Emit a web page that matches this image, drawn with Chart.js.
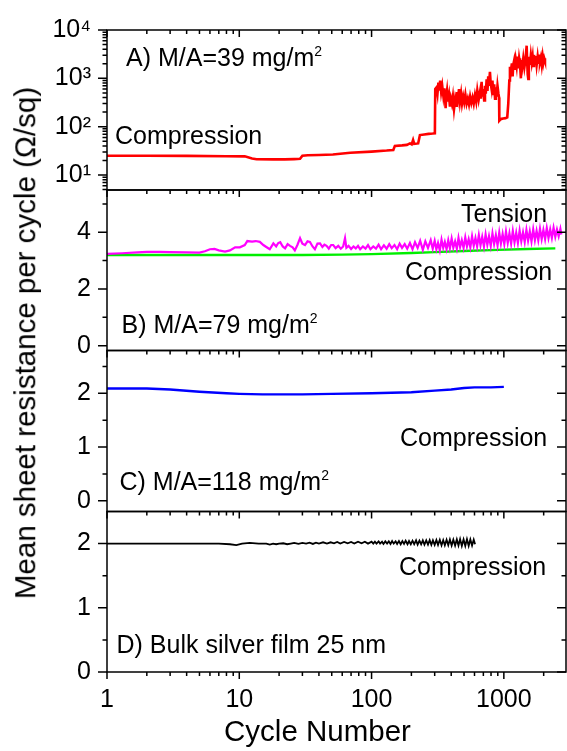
<!DOCTYPE html>
<html><head><meta charset="utf-8">
<script src="https://cdn.jsdelivr.net/npm/chart.js@4"></script>
<style>
html,body{margin:0;padding:0;background:#fff;}
#wrap{position:relative;width:567px;height:751px;overflow:hidden;font-family:"Liberation Sans",Arial,sans-serif;color:#000;background:#fff;}
canvas{position:absolute;left:0;top:0;}
.t{position:absolute;white-space:nowrap;line-height:1;font-size:25px;}
.s{font-size:14px;position:relative;top:-10px;}
</style></head>
<body><div id="wrap">
<canvas id="cA" width="567" height="751"></canvas>
<canvas id="cB" width="567" height="751"></canvas>
<canvas id="cC" width="567" height="751"></canvas>
<canvas id="cD" width="567" height="751"></canvas>
<div class="t" style="left:126px;top:44.8px">A) M/A=39 mg/m<span class="s">2</span></div>
<div class="t" style="left:115px;top:122.8px">Compression</div>
<div class="t" style="left:461px;top:200.5px">Tension</div>
<div class="t" style="left:405px;top:258.8px">Compression</div>
<div class="t" style="left:121.5px;top:312.1px">B) M/A=79 mg/m<span class="s">2</span></div>
<div class="t" style="left:400px;top:424.8px">Compression</div>
<div class="t" style="left:119.5px;top:468.8px">C) M/A=118 mg/m<span class="s">2</span></div>
<div class="t" style="left:399px;top:553.8px">Compression</div>
<div class="t" style="left:116.5px;top:632.1px">D) Bulk silver film 25 nm</div>
<div class="t" style="left:317.5px;top:716px;font-size:29.5px;transform:translateX(-50%)">Cycle Number</div>
<div class="t" style="left:25px;top:342.5px;font-size:29.5px;line-height:29.5px;transform:translate(-50%,-50%) rotate(-90deg)">Mean sheet resistance per cycle (Ω/sq)</div>
</div>
<script>
// ---------- data ----------
const xTickValues = [1, 10, 100, 1000];

// Panel A: M/A = 39 mg/m2, compression (red, log scale)
const cyclesA = [1,2,4,8,11,12.5,13.5,18,22,26,28.8,30,33,40,51,69,100,130,146,150,170,185,195,201,206,210,225,232,250,270,290,301,
 303,310,315,320,325,330,336,342,349,355,360,363,367,372,378,385,391,398,405,412,420,428,435,442,450,458,466,475,483,493,502,512,523,534,545,556,568,580,592,605,618,630,645,660,670,679,688,699,710,720,730,741,752,762,772,785,795,808,820,832,845,858,870,881,895,910,920,
 924,940,960,989,1030,1061,1080,1100,1112,1130,1150,1165,1178,1195,1210,1230,1249,1265,1285,1305,1324,1345,1360,1380,1403,1430,1460,1487,1500,1515,1530,1545,1560,1575,1600,1625,1650,1669,1690,1720,1745,1770,1800,1825,1850,1875,1905,1935,1965,1990,2020,2046];
const resistA = [25,25,24.8,24.5,24.3,22,21.2,21.0,21.0,21.3,21.6,25,25.6,26,26.6,28.9,30.5,32,33,40,41,42,45,43,53,44,45,67,69,71,72,73,
 600,650,480,820,560,900,520,700,430,620,350,240,420,560,330,450,260,380,300,420,230,360,270,520,380,600,330,480,300,420,320,460,300,380,290,420,310,400,300,450,330,560,360,520,380,850,420,600,350,700,480,950,550,1100,700,1370,800,600,900,450,750,380,650,420,700,480,400,
 133,140,145,147,150,155,300,900,1740,1400,2040,1100,1900,2300,1500,2400,1800,2800,1600,2600,2000,1000,2400,1800,2600,1700,2500,4740,2300,1200,970,2000,2800,1900,3000,2100,2800,1800,3040,2200,2900,1900,2800,2000,3100,2200,2700,1900,2800,2100,2600,2300];

// Panel B: M/A = 79 mg/m2, tension (magenta) and compression (green)
const cyclesBT = [1,1.3,1.7,2,2.5,3,4,5,5.5,6,6.5,7,7.8,8.5,9.3,10.1,11,11.5,12.5,13.3,14.3,15.2,16,17,18.1,19,19.7,20.4,21.3,22.2,23.2,24.2,25.3,26.3,27.5,28.8,30,31.4,32.8,34.2,35.8,37.3,39,40.8,42.5,44,45.7,47.5,49.5,51.3,53.5,56,58.5,61,63,64.5,67,70,73,76,79,82,86,90,94,98,103,108,113,118,124,130,136,142,149,156,163,170,178,186,195,204,213,223,233,244,255,267,280,290,
 300,309,318,328,338,348,358,369,380,391,403,415,428,441,454,467,481,496,511,526,542,558,575,592,610,628,647,666,686,707,728,750,772,796,820,844,870,896,923,950,979,1008,1038,1070,1102,1135,1169,1204,1240,1277,1316,1355,1396,1438,1481,1525,1571,1618,1667,1717,1768,1821,1876,1932,1990,2050,2111,2175,2240,2307,2376,2448,2521,2597,2675,2720];
const tensionB = [3.24,3.26,3.29,3.31,3.31,3.3,3.29,3.28,3.33,3.4,3.41,3.36,3.32,3.36,3.47,3.47,3.55,3.69,3.67,3.69,3.66,3.55,3.48,3.40,3.61,3.5,3.62,3.65,3.5,3.43,3.58,3.52,3.47,3.36,3.55,3.79,3.6,3.55,3.68,3.66,3.5,3.40,3.6,3.61,3.48,3.56,3.52,3.42,3.55,3.55,3.44,3.52,3.42,3.5,3.79,3.45,3.52,3.41,3.5,3.43,3.52,3.4,3.5,3.42,3.55,3.4,3.5,3.42,3.56,3.4,3.54,3.42,3.58,3.44,3.55,3.4,3.6,3.45,3.58,3.42,3.62,3.4,3.65,3.45,3.7,3.38,3.68,3.45,3.72,3.42,
 3.70,3.40,3.62,3.36,3.74,3.45,3.66,3.40,3.72,3.44,3.78,3.46,3.68,3.42,3.80,3.48,3.72,3.45,3.82,3.50,3.75,3.47,3.86,3.52,3.80,3.50,3.90,3.54,3.84,3.50,3.92,3.56,3.86,3.52,3.96,3.58,3.90,3.54,3.99,3.60,3.94,3.58,4.02,3.62,3.96,3.60,4.04,3.64,3.98,3.62,4.06,3.68,4.00,3.66,4.08,3.70,4.03,3.68,4.10,3.72,4.05,3.72,4.12,3.76,4.08,3.76,4.15,3.80,4.10,3.80,4.16,3.84,4.10,3.86,4.12,3.92];
const cyclesBC = [1,3,10,30,60,100,200,300,500,900,1500,2450];
const compressionB = [3.2,3.2,3.2,3.2,3.21,3.23,3.27,3.3,3.34,3.38,3.41,3.43];

// Panel C: M/A = 118 mg/m2, compression (blue)
const cyclesC = [1,2,3,5,8,10,15,20,30,50,100,200,300,400,500,600,800,1000];
const compressionC = [2.09,2.09,2.07,2.03,2.0,1.99,1.98,1.98,1.98,1.99,2.0,2.02,2.05,2.07,2.1,2.11,2.11,2.12];

// Panel D: bulk silver film 25 nm, compression (black)
const cyclesD = [1,3,7,8.5,9.5,10.5,12,14,16,17,18,19,20,21.5,23,24.5,26,28,30,32,34,36,38,40,43,46,49,52,55,58,62,66,70,74,79,84,89,94,
 100,103,106,109,113,116,120,123,127,131,135,139,143,147,152,156,161,166,171,176,181,187,192,198,204,210,217,223,230,237,244,251,259,267,275,283,291,300,309,318,328,338,348,358,369,380,391,403,415,428,441,454,467,481,496,511,526,542,558,575,592,606];
const compressionD = [2.0,2.0,2.0,1.99,1.975,2.0,2.01,2.0,2.0,1.985,2.0,1.99,2.0,2.005,1.99,2.0,2.01,1.995,2.01,2.0,2.015,1.995,2.015,2.0,2.02,2.0,2.02,2.005,2.025,2.0,2.025,2.005,2.025,2.0,2.03,2.005,2.03,2.0,
 2.03,2.0,2.03,2.0,2.035,2.0,2.03,1.995,2.035,2.0,2.035,1.995,2.04,2.0,2.035,1.995,2.04,1.99,2.04,1.995,2.045,1.99,2.04,1.99,2.045,1.99,2.05,1.985,2.045,1.99,2.05,1.985,2.05,1.985,2.055,1.98,2.05,1.98,2.055,1.98,2.06,1.975,2.055,1.975,2.06,1.975,2.065,1.97,2.06,1.97,2.065,1.97,2.07,1.965,2.065,1.965,2.07,1.965,2.065,1.97,2.06,1.99];

// ---------- chart building ----------
const FONT = '"Liberation Sans", Arial, sans-serif';
Chart.defaults.font.family = FONT;
Chart.defaults.font.size = 25;
Chart.defaults.color = '#000';
const W = 567, H = 751, XMAX = 2950, RIGHT = 566, XAXIS_H = 45;

function pts(xs, ys) { return xs.map((x, i) => ({x: x, y: ys[i]})); }
function xMinorList() {
  const out = [];
  for (const d of [1, 10, 100, 1000]) for (let k = 2; k <= 9; k++) if (d * k <= XMAX) out.push(d * k);
  return out;
}
const sup = {'1':'\u00B9','2':'\u00B2','3':'\u00B3','4':'\u2074'};

const frameTicks = {
  id: 'frameTicks',
  afterDraw(chart, args, o) {
    const {ctx, chartArea: a, scales} = chart;
    const xs = scales.x, ys = scales.y;
    ctx.save();
    ctx.strokeStyle = '#000';
    ctx.lineWidth = 1.5;
    ctx.beginPath();
    const xt = (v, len, yy) => { const p = xs.getPixelForValue(v); ctx.moveTo(p, yy); ctx.lineTo(p, yy + len); };
    const yt = (v, len) => {
      const p = ys.getPixelForValue(v);
      ctx.moveTo(a.left - len, p); ctx.lineTo(a.left, p);
      ctx.moveTo(a.right - len, p); ctx.lineTo(a.right, p);
    };
    xTickValues.forEach(v => { xt(v, 7, a.top); if (o.bottom) xt(v, 7, a.bottom); });
    xMinorList().forEach(v => { xt(v, 4, a.top); if (o.bottom) xt(v, 4, a.bottom); });
    o.yMajor.forEach(v => yt(v, 9));
    o.yMinor.forEach(v => yt(v, 4.5));
    ctx.stroke();
    ctx.strokeRect(a.left, a.top, a.right - a.left, a.bottom - a.top);
    ctx.restore();
  }
};

function makeChart(id, cfg) {
  const isLog = cfg.yType === 'logarithmic';
  const xh = cfg.showX ? XAXIS_H : 0;
  return new Chart(document.getElementById(id), {
    type: 'line',
    data: { datasets: cfg.datasets.map(d => ({
      data: d.data, borderColor: d.color, borderWidth: d.width || 2,
      pointRadius: 0, tension: 0, fill: false
    })) },
    options: {
      responsive: false, animation: false, devicePixelRatio: 1,
      layout: { padding: { top: cfg.top, bottom: H - cfg.bottom - xh, left: 0, right: W - RIGHT } },
      plugins: { legend: { display: false }, tooltip: { enabled: false },
                 frameTicks: { yMajor: cfg.yMajor, yMinor: cfg.yMinor, bottom: cfg.showX } },
      scales: {
        x: {
          type: 'logarithmic', min: 1, max: XMAX, position: 'bottom',
          grid: { display: false, drawTicks: true, tickLength: 7 },
          border: { display: false },
          afterBuildTicks: s => { s.ticks = xTickValues.map(v => ({value: v})); },
          afterFit: s => { s.height = xh; },
          ticks: { display: cfg.showX, padding: 6, maxRotation: 0, minRotation: 0, autoSkip: false,
                   font: { size: 25 }, callback: v => String(v) }
        },
        y: {
          type: cfg.yType, min: cfg.yMin, max: cfg.yMax, position: 'left',
          grid: { display: false, drawTicks: true, tickLength: 9 },
          border: { display: false },
          afterBuildTicks: s => { s.ticks = cfg.yMajor.map(v => ({value: v})); },
          afterFit: s => { s.width = 107; },
          ticks: { padding: 7, autoSkip: false, font: { size: 25 },
                   callback: v => isLog ? '10' + sup[String(Math.round(Math.log10(v)))] : String(v) }
        }
      }
    },
    plugins: [frameTicks]
  });
}

const minorLogA = [];
for (const d of [1, 10, 100, 1000]) for (let k = 2; k <= 9; k++) if (d * k >= 4.9) minorLogA.push(d * k);

makeChart('cA', {
  top: 30, bottom: 190, yType: 'logarithmic', yMin: 4.89, yMax: 10000,
  yMajor: [10, 100, 1000, 10000], yMinor: minorLogA, showX: false,
  datasets: [{ data: pts(cyclesA, resistA), color: '#ff0000', width: 2.6 }]
});
makeChart('cB', {
  top: 190, bottom: 350.5, yType: 'linear', yMin: -0.17, yMax: 5.49,
  yMajor: [0, 2, 4], yMinor: [1, 3, 5], showX: false,
  datasets: [
    { data: pts(cyclesBT, tensionB), color: '#ff00ff', width: 2.2 },
    { data: pts(cyclesBC, compressionB), color: '#00ee00', width: 2.4 }
  ]
});
makeChart('cC', {
  top: 350.5, bottom: 511.5, yType: 'linear', yMin: -0.2, yMax: 2.797,
  yMajor: [0, 1, 2], yMinor: [0.5, 1.5, 2.5], showX: false,
  datasets: [{ data: pts(cyclesC, compressionC), color: '#0000ff', width: 2.4 }]
});
makeChart('cD', {
  top: 511.5, bottom: 672, yType: 'linear', yMin: 0, yMax: 2.5,
  yMajor: [0, 1, 2], yMinor: [0.5, 1.5], showX: true,
  datasets: [{ data: pts(cyclesD, compressionD), color: '#000000', width: 1.8 }]
});
</script>
</body></html>
